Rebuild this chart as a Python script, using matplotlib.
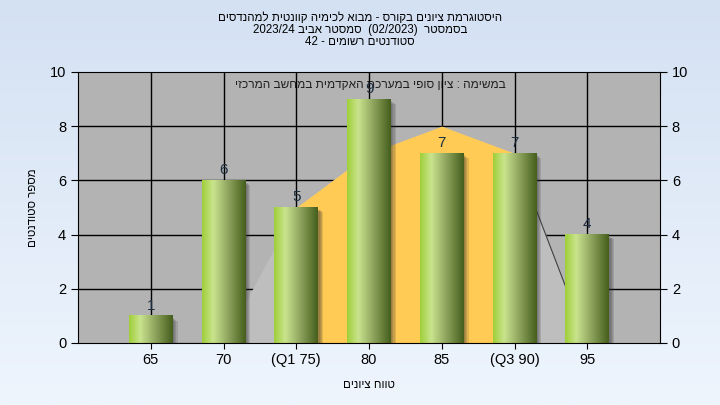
import re
import numpy as np
import matplotlib
matplotlib.use("Agg")
import matplotlib.pyplot as plt
from matplotlib.colors import LinearSegmentedColormap
from matplotlib.patches import Rectangle

# Donnees
grades = [65, 70, 75, 80, 85, 90, 95]
counts = [1, 6, 5, 9, 7, 7, 4]
tick_labels = ['65', '70', '(Q1 75)', '80', '85', '(Q3 90)', '95']
curve = [0, 0, 5, 7, 8, 7, 0]
q1, q3 = 75, 90

title_1 = "היסטוגרמת ציונים בקורס - מבוא לכימיה קוונטית למהנדסים"
title_2 = "בסמסטר  (02/2023)  סמסטר אביב 2023/24"
title_3 = "סטודנטים רשומים - 42"
subtitle = "במשימה : ציון סופי במערכת האקדמית במחשב המרכזי"
xlabel = "טווח ציונים"
ylabel = "מספר סטודנטים"


def rtl(s):
    # affichage de droite a gauche (matplotlib ne gere pas le bidi) :
    # on retourne tout, puis on remet les nombres dans le bon sens
    r = s[::-1]
    r = re.sub(r'[0-9A-Za-z/.]+', lambda m: m.group(0)[::-1], r)
    return r.translate(str.maketrans('()', ')('))


plt.rcParams['font.family'] = ['Liberation Sans', 'DejaVu Sans']
heb_size = 8.3

fig = plt.figure(figsize=(7.2, 4.05), dpi=100)

# fond degrade
bg = fig.add_axes([0, 0, 1, 1], zorder=-10)
grad = np.linspace(0, 1, 256).reshape(-1, 1)
bg_cmap = LinearSegmentedColormap.from_list('bg', ['#d4e1f3', '#eef5fd'])
bg.imshow(grad, aspect='auto', cmap=bg_cmap, extent=[0, 1, 0, 1], origin='upper')
bg.axis('off')

ax = fig.add_axes([78 / 720, 1 - 343 / 405, 582 / 720, 271 / 405])
ax.set_facecolor('#b3b3b3')

# grille
for g in grades:
    ax.axvline(g, color='black', lw=1, zorder=1)
for v in range(2, 10, 2):
    ax.axhline(v, color='black', lw=1, zorder=1)

ax.text(0.502, 0.952, rtl(subtitle), transform=ax.transAxes, ha='center', va='center',
        fontsize=heb_size + 0.3, color='#202020', zorder=0.5)

# courbe (zone grise) et zone Q1-Q3 (orange)
ax.fill_between(grades, curve, 0, color='#bebebe', lw=0, zorder=2)
ax.plot(grades[5:], curve[5:], color='#404040', lw=0.8, zorder=2.1)
ax.plot(grades[:2], curve[:2], color='#808080', lw=1, zorder=2.1)
sel = [i for i, g in enumerate(grades) if q1 <= g <= q3]
ax.fill_between([grades[i] for i in sel], [curve[i] for i in sel], 0,
                color='#ffcb55', lw=0, zorder=2.2)

# barres avec degrade et ombre
w = 3.0
bar_cmap = LinearSegmentedColormap.from_list(
    'bar', [(0, '#9fcf3a'), (0.25, '#cae48e'), (0.6, '#8ea45e'), (1, '#475f1d')])
bar_grad = np.linspace(0, 1, 64).reshape(1, -1)
for x, h in zip(grades, counts):
    for k in range(4):
        off = 0.1 + 0.08 * k
        ax.add_patch(Rectangle((x - w / 2 + off, -0.08 - 0.03 * k), w, h,
                               color='#303030', alpha=0.15, lw=0, zorder=2.5))
    ax.imshow(bar_grad, extent=[x - w / 2, x + w / 2, 0, h], aspect='auto',
              cmap=bar_cmap, zorder=3, interpolation='bicubic')
    ax.text(x, h + 0.12, str(h), ha='center', va='bottom', fontsize=11,
            color='#1c2d40', zorder=2.9)

ax.set_xlim(60, 100)
ax.set_ylim(0, 10)
ax.set_aspect('auto')

ax.set_xticks(grades)
ax.set_xticklabels(tick_labels, fontsize=10.5)
ax.set_yticks(range(0, 11, 2))
ax.tick_params(axis='y', labelsize=10.5, right=True, labelright=True, length=5)
ax.tick_params(axis='x', length=4)
for s in ax.spines.values():
    s.set_color('black')
    s.set_zorder(5)

ax.set_xlabel(rtl(xlabel), fontsize=heb_size, labelpad=8)
ax.set_ylabel(rtl(ylabel), fontsize=heb_size, labelpad=8)

fig.text(0.5, 1 - 18 / 405, rtl(title_1), ha='center', va='center', fontsize=heb_size)
fig.text(0.5, 1 - 30 / 405, rtl(title_2), ha='center', va='center', fontsize=heb_size)
fig.text(0.5, 1 - 42 / 405, rtl(title_3), ha='center', va='center', fontsize=heb_size)

fig.savefig('out.png', dpi=100)
